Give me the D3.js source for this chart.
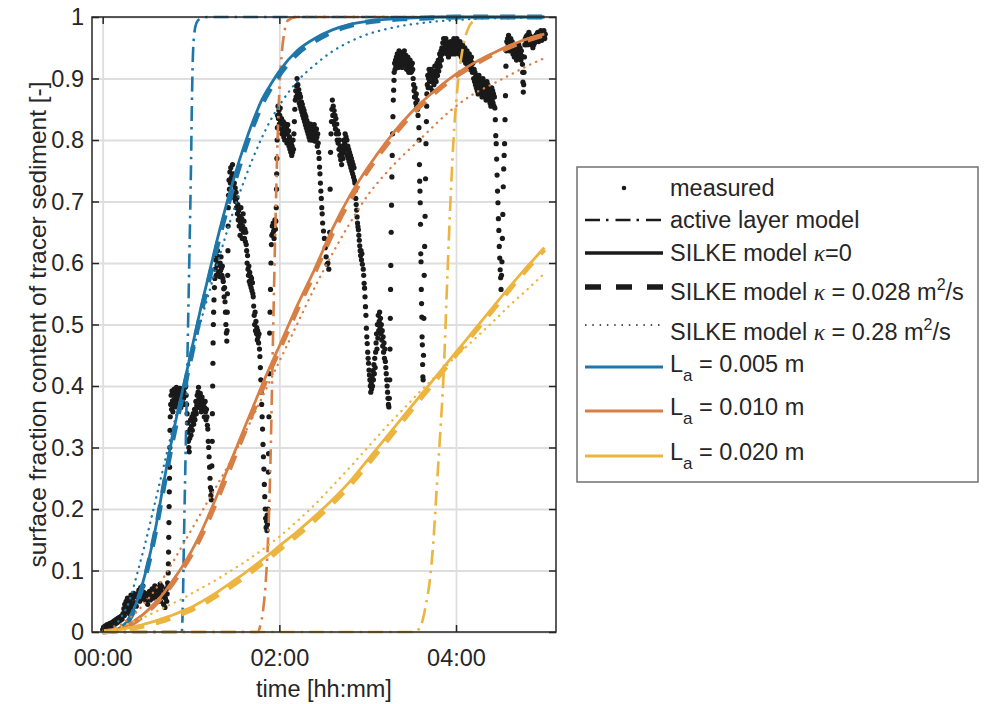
<!DOCTYPE html>
<html>
<head>
<meta charset="utf-8">
<script src="https://cdn.jsdelivr.net/npm/d3@7"></script>
<style>
  body { margin: 0; background: #fff; }
  svg text { font-family: "Liberation Sans", Arial, Helvetica, sans-serif; fill: #262626; }
</style>
</head>
<body>
<div id="chart"></div>
<script>
// time grid (hours) shared by the SILKE model curves
const curveTime = [0, 0.1, 0.2, 0.3, 0.4, 0.5, 0.6, 0.7, 0.8, 0.9, 1.0, 1.1, 1.2, 1.3, 1.4, 1.5, 1.6, 1.7, 1.8, 1.9,
  2.0, 2.2, 2.4, 2.6, 2.8, 3.0, 3.2, 3.4, 3.6, 3.8, 4.0, 4.2, 4.4, 4.6, 4.8, 5.0];

// La = 0.005 m
const blueSolid = [0, 0.001, 0.007, 0.022, 0.055, 0.105, 0.17, 0.25, 0.325, 0.39, 0.455, 0.52, 0.58, 0.64, 0.695, 0.745,
  0.79, 0.83, 0.865, 0.89, 0.912, 0.945, 0.965, 0.979, 0.988, 0.993, 0.996, 0.998, 0.999, 1, 1, 1, 1, 1, 1, 1];
const blueDashed = [0, 0.001, 0.006, 0.02, 0.052, 0.1, 0.165, 0.243, 0.317, 0.382, 0.447, 0.511, 0.571, 0.63, 0.685, 0.735,
  0.781, 0.822, 0.857, 0.884, 0.906, 0.94, 0.961, 0.976, 0.986, 0.992, 0.995, 0.997, 0.998, 0.999, 1, 1, 1, 1, 1, 1];
const blueDotted = [0, 0.006, 0.022, 0.05, 0.1, 0.155, 0.215, 0.275, 0.335, 0.39, 0.445, 0.5, 0.55, 0.6, 0.648, 0.693,
  0.733, 0.77, 0.803, 0.832, 0.856, 0.895, 0.922, 0.944, 0.96, 0.972, 0.98, 0.986, 0.99, 0.993, 0.995, 0.997, 0.998, 0.998, 0.999, 0.999];

// La = 0.010 m
const orangeSolid = [0, 0.002, 0.005, 0.012, 0.022, 0.034, 0.048, 0.065, 0.085, 0.106, 0.13, 0.158, 0.19, 0.224, 0.26, 0.295,
  0.33, 0.365, 0.4, 0.433, 0.465, 0.53, 0.59, 0.655, 0.71, 0.755, 0.795, 0.83, 0.86, 0.885, 0.907, 0.925, 0.94, 0.953, 0.964, 0.972];
const orangeDashed = [0, 0.002, 0.005, 0.011, 0.02, 0.032, 0.046, 0.062, 0.081, 0.102, 0.125, 0.152, 0.183, 0.217, 0.252, 0.288,
  0.323, 0.358, 0.393, 0.427, 0.459, 0.524, 0.585, 0.648, 0.703, 0.75, 0.79, 0.826, 0.856, 0.882, 0.904, 0.922, 0.938, 0.951, 0.962, 0.971];
const orangeDotted = [0, 0.005, 0.012, 0.022, 0.035, 0.051, 0.07, 0.091, 0.115, 0.14, 0.165, 0.19, 0.215, 0.24, 0.265, 0.292,
  0.32, 0.35, 0.38, 0.41, 0.44, 0.5, 0.56, 0.615, 0.665, 0.71, 0.745, 0.775, 0.802, 0.83, 0.855, 0.875, 0.89, 0.905, 0.92, 0.933];

// La = 0.020 m
const yellowSolid = [0, 0.002, 0.004, 0.007, 0.01, 0.014, 0.018, 0.023, 0.028, 0.034, 0.04, 0.048, 0.056, 0.065, 0.075, 0.085,
  0.095, 0.106, 0.117, 0.128, 0.14, 0.163, 0.188, 0.215, 0.245, 0.28, 0.315, 0.35, 0.385, 0.42, 0.455, 0.49, 0.525, 0.56, 0.593, 0.625];
const yellowDashed = [0, 0.001, 0.003, 0.005, 0.008, 0.011, 0.015, 0.019, 0.024, 0.03, 0.036, 0.043, 0.051, 0.06, 0.069, 0.079,
  0.089, 0.1, 0.111, 0.122, 0.134, 0.157, 0.182, 0.209, 0.239, 0.273, 0.308, 0.344, 0.38, 0.415, 0.451, 0.486, 0.521, 0.556, 0.59, 0.622];
const yellowDotted = [0, 0.004, 0.008, 0.014, 0.02, 0.026, 0.033, 0.04, 0.047, 0.054, 0.062, 0.07, 0.078, 0.086, 0.095, 0.104,
  0.113, 0.123, 0.133, 0.144, 0.155, 0.18, 0.207, 0.237, 0.268, 0.3, 0.332, 0.362, 0.392, 0.42, 0.448, 0.475, 0.502, 0.53, 0.556, 0.583];

// active layer model
const activeBlueT = [0, 0.895, 0.905, 0.92, 0.94, 0.96, 0.98, 1.0, 1.01, 1.02, 1.035, 1.06, 1.1, 1.2, 5.0];
const activeBlueV = [0, 0, 0.03, 0.15, 0.3, 0.45, 0.6, 0.76, 0.86, 0.93, 0.97, 0.99, 0.997, 1, 1];
const activeOrangeT = [0, 1.76, 1.78, 1.82, 1.85, 1.88, 1.9, 1.92, 1.94, 1.96, 1.98, 2.0, 2.03, 2.06, 2.1, 2.2, 5.0];
const activeOrangeV = [0, 0, 0.008, 0.04, 0.09, 0.18, 0.28, 0.42, 0.56, 0.69, 0.8, 0.88, 0.945, 0.978, 0.995, 1, 1];
const activeYellowT = [0, 3.55, 3.58, 3.62, 3.66, 3.7, 3.74, 3.78, 3.82, 3.86, 3.9, 3.94, 3.98, 4.02, 4.06, 4.1, 4.15, 4.2, 4.3, 5.0];
const activeYellowV = [0, 0, 0.005, 0.018, 0.045, 0.08, 0.14, 0.23, 0.32, 0.42, 0.57, 0.71, 0.82, 0.89, 0.935, 0.965, 0.985, 0.994, 1, 1];

// measured surface fraction [time h, value]
const measured = [
  [0.0,0.004],[0.01,0.008],[0.02,0.003],[0.03,0.01],[0.04,0.006],[0.05,0.012],[0.06,0.005],[0.07,0.009],[0.08,0.014],[0.09,0.007],[0.1,0.011],
  [0.11,0.016],[0.12,0.01],[0.13,0.018],[0.14,0.013],[0.15,0.02],[0.16,0.015],[0.17,0.022],[0.18,0.017],[0.19,0.024],[0.2,0.019],[0.21,0.026],[0.22,0.021],
  [0.23,0.03],[0.24,0.038],[0.245,0.027],[0.25,0.045],[0.26,0.033],[0.265,0.05],[0.27,0.041],[0.28,0.055],[0.285,0.036],[0.29,0.048],[0.3,0.03],
  [0.31,0.052],[0.315,0.04],[0.32,0.06],[0.33,0.045],[0.335,0.034],[0.34,0.055],[0.35,0.063],[0.36,0.048],[0.37,0.058],[0.38,0.042],[0.39,0.062],
  [0.4,0.055],[0.41,0.068],[0.42,0.05],[0.43,0.072],[0.44,0.06],[0.45,0.066],[0.455,0.075],[0.46,0.054],[0.47,0.064],[0.48,0.058],
  [0.49,0.05],[0.5,0.062],[0.51,0.045],[0.52,0.058],[0.53,0.066],[0.54,0.052],[0.55,0.06],[0.56,0.07],[0.57,0.055],[0.58,0.064],[0.59,0.075],[0.6,0.06],[0.61,0.068],[0.62,0.056],[0.63,0.072],
  [0.64,0.062],[0.65,0.078],[0.655,0.05],[0.66,0.068],[0.67,0.074],[0.68,0.058],[0.69,0.045],[0.7,0.064],[0.705,0.04],[0.71,0.055],[0.72,0.07],[0.725,0.05],[0.73,0.062],[0.735,0.08],
  [0.74,0.075],[0.742,0.096],[0.744,0.111],[0.746,0.13],[0.748,0.154],[0.75,0.178],[0.752,0.204],[0.754,0.228],[0.756,0.25],[0.758,0.268],[0.76,0.3],[0.762,0.328],[0.765,0.35],
  [0.77,0.37],[0.775,0.385],[0.78,0.362],[0.785,0.392],[0.79,0.376],[0.795,0.358],[0.8,0.388],[0.805,0.37],[0.81,0.395],[0.815,0.38],[0.82,0.366],[0.825,0.39],[0.83,0.376],[0.835,0.398],[0.84,0.384],[0.845,0.368],[0.85,0.392],[0.855,0.38],[0.86,0.37],[0.865,0.388],[0.87,0.377],[0.875,0.396],[0.88,0.383],[0.885,0.365],[0.89,0.39],[0.895,0.375],[0.9,0.386],[0.905,0.372],[0.91,0.395],[0.915,0.38],[0.92,0.39],[0.925,0.37],[0.93,0.384],[0.935,0.398],[0.94,0.4],[0.945,0.385],[0.95,0.37],
  [0.955,0.355],[0.96,0.34],[0.965,0.325],[0.97,0.31],[0.975,0.3],[0.98,0.293],[0.985,0.315],[0.99,0.33],[0.995,0.345],[1.0,0.32],[1.005,0.335],[1.01,0.35],[1.015,0.328],[1.02,0.342],[1.025,0.355],[1.03,0.338],[1.035,0.35],[1.04,0.362],[1.045,0.345],
  [1.05,0.36],[1.055,0.375],[1.06,0.355],[1.065,0.368],[1.07,0.385],[1.075,0.37],[1.08,0.39],[1.085,0.398],[1.09,0.38],[1.095,0.365],[1.1,0.375],[1.105,0.388],[1.11,0.37],[1.115,0.358],[1.12,0.372],[1.125,0.382],[1.13,0.366],[1.135,0.376],[1.14,0.36],[1.145,0.372],[1.15,0.35],[1.155,0.365],[1.16,0.375],[1.165,0.358],[1.17,0.345],[1.175,0.362],[1.18,0.35],[1.185,0.336],
  [1.19,0.33],[1.195,0.31],[1.2,0.3],[1.205,0.285],[1.21,0.268],[1.215,0.25],[1.22,0.235],[1.225,0.222],[1.23,0.215],[1.232,0.23],[1.236,0.27],[1.24,0.31],[1.242,0.355],[1.245,0.4],[1.248,0.437],[1.25,0.47],[1.253,0.5],[1.256,0.52],
  [1.26,0.54],[1.265,0.56],[1.27,0.575],[1.275,0.59],[1.28,0.605],[1.285,0.58],[1.29,0.612],[1.295,0.596],[1.3,0.62],[1.305,0.6],[1.31,0.585],[1.315,0.61],[1.32,0.598],[1.325,0.578],[1.33,0.6],[1.335,0.588],[1.34,0.61],[1.345,0.592],[1.35,0.58],[1.355,0.595],[1.36,0.575],
  [1.365,0.57],[1.37,0.558],[1.375,0.545],[1.38,0.56],[1.385,0.537],[1.39,0.52],[1.395,0.5],[1.4,0.486],[1.405,0.473],[1.408,0.49],[1.41,0.52],[1.412,0.55],[1.415,0.58],[1.418,0.62],[1.42,0.66],[1.422,0.69],
  [1.425,0.71],[1.43,0.735],[1.435,0.72],[1.44,0.748],[1.445,0.73],[1.45,0.755],[1.455,0.738],[1.46,0.715],[1.465,0.742],[1.47,0.76],[1.475,0.728],[1.48,0.745],[1.485,0.712],[1.49,0.73],[1.495,0.705],[1.5,0.722],[1.505,0.7],[1.51,0.715],[1.515,0.69],[1.52,0.706],[1.525,0.68],
  [1.53,0.695],[1.535,0.67],[1.54,0.685],[1.545,0.66],[1.55,0.676],[1.555,0.645],[1.56,0.665],[1.565,0.69],[1.57,0.655],[1.575,0.672],[1.58,0.64],[1.585,0.66],[1.59,0.68],[1.595,0.65],[1.6,0.668],[1.605,0.64],[1.61,0.655],[1.615,0.635],[1.62,0.65],[1.625,0.63],
  [1.63,0.62],[1.635,0.6],[1.64,0.612],[1.645,0.59],[1.65,0.58],[1.655,0.595],[1.66,0.57],[1.665,0.585],[1.67,0.565],[1.675,0.578],[1.68,0.56],[1.685,0.575],[1.69,0.555],[1.695,0.568],[1.7,0.55],[1.705,0.545],
  [1.71,0.53],[1.715,0.515],[1.72,0.5],[1.725,0.52],[1.73,0.49],[1.735,0.505],[1.74,0.485],[1.745,0.495],[1.75,0.475],[1.755,0.49],[1.76,0.48],[1.765,0.47],[1.77,0.485],
  [1.775,0.46],[1.78,0.448],[1.785,0.43],[1.79,0.41],[1.795,0.39],[1.8,0.37],[1.805,0.35],[1.81,0.33],[1.815,0.305],[1.82,0.285],[1.825,0.265],[1.83,0.24],[1.835,0.22],[1.84,0.2],[1.845,0.185],[1.85,0.17],[1.855,0.18],[1.86,0.165],[1.862,0.19],[1.865,0.175],
  [1.87,0.2],[1.875,0.26],[1.878,0.29],[1.882,0.35],[1.886,0.42],[1.89,0.486],[1.895,0.52],[1.9,0.557],[1.905,0.6],[1.91,0.63],
  [1.915,0.645],[1.92,0.66],[1.925,0.648],[1.93,0.665],[1.935,0.652],[1.94,0.64],[1.945,0.658],[1.95,0.67],[1.955,0.655],[1.96,0.668],
  [1.965,0.69],[1.968,0.72],[1.97,0.745],[1.972,0.77],[1.975,0.8],[1.978,0.82],
  [1.98,0.84],[1.985,0.855],[1.99,0.835],[1.995,0.848],[2.0,0.826],[2.005,0.84],[2.01,0.852],[2.015,0.83],[2.02,0.818],[2.025,0.835],[2.03,0.81],[2.035,0.826],[2.04,0.815],[2.045,0.83],[2.05,0.805],[2.055,0.82],[2.06,0.8],[2.065,0.815],[2.07,0.826],[2.075,0.81],[2.08,0.82],[2.085,0.795],[2.09,0.81],
  [2.095,0.825],[2.1,0.8],[2.105,0.815],[2.11,0.79],[2.115,0.805],[2.12,0.785],[2.125,0.8],[2.13,0.78],[2.135,0.795],[2.14,0.775],[2.145,0.79],[2.15,0.78],[2.155,0.8],[2.16,0.785],[2.165,0.81],[2.17,0.83],[2.175,0.85],
  [2.18,0.865],[2.185,0.88],[2.19,0.87],[2.195,0.888],[2.2,0.9],[2.205,0.875],[2.21,0.89],[2.215,0.868],[2.22,0.882],[2.225,0.86],[2.23,0.875],[2.235,0.855],[2.24,0.87],[2.245,0.85],[2.25,0.862],[2.255,0.845],[2.26,0.858],[2.265,0.84],[2.27,0.852],
  [2.275,0.835],[2.28,0.848],[2.285,0.83],[2.29,0.842],[2.295,0.825],[2.3,0.838],[2.305,0.82],[2.31,0.832],[2.315,0.815],[2.32,0.828],[2.325,0.81],[2.33,0.822],[2.335,0.805],[2.34,0.818],[2.345,0.8],[2.35,0.812],[2.355,0.826],[2.36,0.808],[2.365,0.82],[2.37,0.8],
  [2.375,0.815],[2.38,0.8],[2.385,0.82],[2.39,0.805],[2.395,0.825],[2.4,0.81],[2.405,0.798],[2.41,0.815],[2.415,0.8],[2.42,0.818],[2.425,0.805],[2.43,0.79],[2.435,0.81],[2.44,0.795],[2.445,0.78],
  [2.45,0.77],[2.455,0.756],[2.46,0.745],[2.465,0.73],[2.47,0.717],[2.475,0.705],[2.48,0.69],[2.485,0.68],[2.49,0.665],[2.5,0.652],[2.51,0.64],[2.52,0.625],[2.53,0.61],[2.54,0.598],[2.55,0.6],[2.56,0.59],
  [2.57,0.65],[2.575,0.72],[2.58,0.78],[2.585,0.81],
  [2.59,0.83],[2.595,0.85],[2.6,0.865],[2.605,0.84],[2.61,0.855],[2.615,0.83],[2.62,0.848],[2.625,0.825],[2.63,0.84],[2.635,0.818],[2.64,0.835],[2.645,0.81],[2.65,0.826],[2.655,0.8],[2.66,0.815],[2.665,0.795],[2.67,0.81],[2.675,0.785],[2.68,0.8],[2.685,0.775],[2.69,0.79],[2.695,0.768],[2.7,0.782],[2.705,0.76],[2.71,0.776],[2.715,0.79],[2.72,0.77],[2.725,0.785],[2.73,0.8],[2.735,0.78],[2.74,0.795],[2.745,0.81],[2.75,0.79],[2.755,0.805],[2.76,0.785],[2.765,0.8],[2.77,0.775],[2.775,0.79],[2.78,0.77],[2.785,0.785],[2.79,0.765],[2.795,0.78],[2.8,0.76],[2.805,0.775],[2.81,0.755],[2.815,0.77],[2.82,0.75],[2.825,0.765],[2.83,0.745],[2.835,0.76],[2.84,0.74],[2.845,0.755],[2.85,0.735],
  [2.855,0.73],[2.86,0.718],[2.865,0.705],[2.87,0.695],[2.875,0.686],[2.88,0.675],[2.885,0.665],[2.89,0.659],[2.895,0.654],[2.9,0.645],[2.905,0.637],[2.91,0.628],[2.915,0.62],[2.92,0.612],[2.925,0.62],[2.93,0.605],[2.935,0.615],[2.94,0.598],
  [2.95,0.59],[2.955,0.58],[2.96,0.567],[2.965,0.559],[2.97,0.545],[2.975,0.529],[2.98,0.515],[2.985,0.494],[2.99,0.48],[2.995,0.469],[3.0,0.455],[3.005,0.445],[3.01,0.437],[3.015,0.426],[3.02,0.418],[3.025,0.41],[3.03,0.4],[3.035,0.39],[3.04,0.405],[3.045,0.395],[3.05,0.415],[3.055,0.4],[3.06,0.425],[3.065,0.41],[3.07,0.435],[3.075,0.42],[3.08,0.445],[3.085,0.43],[3.09,0.455],
  [3.095,0.47],[3.1,0.485],[3.105,0.46],[3.11,0.5],[3.115,0.478],[3.12,0.515],[3.125,0.49],[3.13,0.505],[3.135,0.52],[3.14,0.495],[3.145,0.51],[3.15,0.485],[3.155,0.5],[3.16,0.475],[3.165,0.49],[3.17,0.465],[3.175,0.48],[3.18,0.455],[3.185,0.47],[3.19,0.445],[3.195,0.46],
  [3.2,0.44],[3.205,0.43],[3.21,0.42],[3.215,0.41],[3.22,0.4],[3.225,0.39],[3.23,0.38],[3.235,0.37],[3.24,0.366],[3.245,0.38],
  [3.25,0.41],[3.253,0.46],[3.256,0.51],[3.259,0.557],[3.262,0.596],[3.266,0.65],[3.27,0.694],[3.274,0.74],[3.278,0.775],[3.282,0.81],[3.286,0.838],[3.29,0.865],[3.294,0.881],[3.298,0.897],
  [3.3,0.91],[3.305,0.925],[3.31,0.915],[3.315,0.93],[3.32,0.92],[3.325,0.935],[3.33,0.925],[3.335,0.94],[3.34,0.93],[3.345,0.918],[3.35,0.935],[3.355,0.945],[3.36,0.928],[3.365,0.94],[3.37,0.922],[3.375,0.935],[3.38,0.942],[3.385,0.93],[3.39,0.918],[3.395,0.935],[3.4,0.925],[3.405,0.94],[3.41,0.93],[3.415,0.945],[3.42,0.935],[3.425,0.922],[3.43,0.938],[3.435,0.93],[3.44,0.915],[3.445,0.93],[3.45,0.92],[3.455,0.935],[3.46,0.925],[3.465,0.91],[3.47,0.925],[3.475,0.915],[3.48,0.93],[3.485,0.92],[3.49,0.91],[3.495,0.922],[3.5,0.912],[3.505,0.925],[3.51,0.915],
  [3.515,0.9],[3.52,0.89],[3.525,0.88],[3.53,0.87],[3.535,0.885],[3.54,0.87],[3.545,0.86],[3.55,0.875],[3.555,0.855],[3.56,0.865],[3.565,0.85],[3.57,0.84],[3.575,0.855],
  [3.58,0.82],[3.583,0.8],[3.586,0.76],[3.589,0.733],[3.592,0.717],[3.595,0.698],[3.598,0.663],[3.601,0.615],[3.604,0.602],[3.607,0.557],[3.61,0.534],[3.613,0.512],[3.616,0.48],[3.619,0.467],[3.622,0.435],[3.625,0.415],[3.628,0.41],[3.632,0.45],[3.636,0.51],[3.64,0.58],[3.645,0.627],[3.65,0.676],[3.655,0.737],[3.66,0.794],[3.665,0.83],[3.668,0.855],
  [3.67,0.875],[3.675,0.89],[3.68,0.905],[3.685,0.885],[3.69,0.9],[3.695,0.915],[3.7,0.895],[3.705,0.91],[3.71,0.885],[3.715,0.9],[3.72,0.915],[3.725,0.895],[3.73,0.905],[3.735,0.88],[3.74,0.895],[3.745,0.91],[3.75,0.89],[3.755,0.905],[3.76,0.92],[3.765,0.9],[3.77,0.912],[3.775,0.895],[3.78,0.91],[3.785,0.925],[3.79,0.905],[3.795,0.918],[3.8,0.93],[3.805,0.912],[3.81,0.925],[3.815,0.94],[3.82,0.92],[3.825,0.935],[3.83,0.945],[3.835,0.93],
  [3.84,0.95],[3.845,0.94],[3.85,0.958],[3.855,0.945],[3.86,0.965],[3.865,0.95],[3.87,0.96],[3.875,0.942],[3.88,0.955],[3.885,0.965],[3.89,0.948],[3.895,0.96],[3.9,0.94],[3.905,0.955],[3.91,0.945],[3.915,0.935],[3.92,0.95],[3.925,0.94],[3.93,0.955],[3.935,0.945],[3.94,0.96],[3.945,0.95],[3.95,0.94],[3.955,0.955],[3.96,0.945],[3.965,0.96],[3.97,0.95],[3.975,0.965],[3.98,0.955],[3.985,0.94],[3.99,0.95],[3.995,0.96],
  [4.0,0.945],[4.005,0.955],[4.01,0.965],[4.015,0.95],[4.02,0.96],[4.025,0.945],[4.03,0.955],[4.035,0.94],[4.04,0.95],[4.045,0.96],[4.05,0.945],[4.055,0.955],[4.06,0.935],[4.065,0.95],[4.07,0.94],[4.075,0.955],[4.08,0.945],[4.085,0.93],[4.09,0.945],[4.095,0.935],[4.1,0.95],[4.105,0.94],[4.11,0.925],[4.115,0.94],[4.12,0.93],[4.125,0.945],[4.13,0.935],[4.135,0.92],[4.14,0.935],[4.145,0.925],[4.15,0.94],[4.155,0.93],[4.16,0.915],[4.165,0.93],[4.17,0.92],[4.175,0.935],[4.18,0.925],[4.185,0.91],[4.19,0.925],
  [4.195,0.915],[4.2,0.9],[4.205,0.915],[4.21,0.895],[4.215,0.91],[4.22,0.89],[4.225,0.905],[4.23,0.885],[4.235,0.9],[4.24,0.88],[4.245,0.895],[4.25,0.875],[4.255,0.89],[4.26,0.905],[4.265,0.885],[4.27,0.9],[4.275,0.88],[4.28,0.895],[4.285,0.875],[4.29,0.89],[4.295,0.87],[4.3,0.885],[4.305,0.9],[4.31,0.88],[4.315,0.895],[4.32,0.875],[4.325,0.89],[4.33,0.87],[4.335,0.885],[4.34,0.865],[4.345,0.88],[4.35,0.895],[4.355,0.875],[4.36,0.89],[4.365,0.87],[4.37,0.885],[4.375,0.865],[4.38,0.88],[4.385,0.86],[4.39,0.875],[4.395,0.855],[4.4,0.87],[4.405,0.885],[4.41,0.865],[4.415,0.88],[4.42,0.86],[4.425,0.875],[4.43,0.855],[4.435,0.87],
  [4.44,0.852],[4.445,0.833],[4.45,0.807],[4.455,0.794],[4.46,0.769],[4.465,0.743],[4.47,0.717],[4.475,0.698],[4.48,0.672],[4.485,0.653],[4.49,0.627],[4.495,0.608],[4.5,0.589],[4.505,0.576],[4.51,0.557],[4.515,0.58],[4.52,0.602],[4.525,0.64],[4.53,0.679],[4.535,0.724],[4.54,0.753],[4.545,0.775],[4.55,0.794],[4.555,0.833],[4.56,0.872],
  [4.565,0.92],[4.57,0.945],[4.575,0.96],[4.58,0.95],[4.585,0.965],[4.59,0.955],[4.595,0.97],[4.6,0.958],[4.605,0.945],[4.61,0.96],[4.615,0.95],[4.62,0.965],[4.625,0.955],[4.63,0.945],[4.635,0.96],[4.64,0.95],[4.645,0.94],[4.65,0.955],[4.655,0.945],[4.66,0.935],[4.665,0.95],[4.67,0.94],[4.675,0.955],[4.68,0.945],[4.685,0.93],[4.69,0.945],[4.695,0.935],[4.7,0.95],[4.705,0.94],[4.71,0.955],[4.715,0.945],[4.72,0.935],[4.725,0.95],[4.73,0.94],[4.735,0.93],[4.74,0.945],
  [4.75,0.936],[4.752,0.923],[4.755,0.91],[4.758,0.894],[4.762,0.878],[4.766,0.89],[4.77,0.91],[4.775,0.935],
  [4.78,0.955],[4.785,0.965],[4.79,0.955],[4.795,0.968],[4.8,0.96],[4.805,0.97],[4.81,0.962],[4.815,0.955],[4.82,0.965],[4.825,0.975],[4.83,0.962],[4.835,0.97],[4.84,0.958],[4.845,0.968],[4.85,0.96],[4.855,0.955],[4.86,0.965],[4.865,0.958],[4.87,0.95],[4.875,0.962],[4.88,0.955],[4.885,0.965],[4.89,0.958],[4.895,0.968],[4.9,0.96],[4.905,0.97],[4.91,0.962],[4.915,0.972],[4.92,0.965],[4.925,0.975],[4.93,0.968],[4.935,0.96],[4.94,0.972],[4.945,0.965],[4.95,0.975],[4.955,0.968],[4.96,0.978],[4.965,0.97],[4.97,0.962],[4.975,0.972],[4.98,0.965],[4.985,0.975],[4.99,0.968],[4.995,0.978],[5.0,0.97],[5.005,0.965],[5.01,0.972]
];

const yTicks = [0, 0.1, 0.2, 0.3, 0.4, 0.5, 0.6, 0.7, 0.8, 0.9, 1];
const yTickLabels = ["0", "0.1", "0.2", "0.3", "0.4", "0.5", "0.6", "0.7", "0.8", "0.9", "1"];
const xTicks = [0, 2, 4];
const xTickLabels = ["00:00", "02:00", "04:00"];

const colors = { blue: "#1f77a9", orange: "#d77f45", yellow: "#ecb53f" };
const axisColor = "#262626";
const gridColor = "#dedede";

const plot = { left: 92, right: 556, top: 17, bottom: 632 };

const x = d3.scaleLinear().domain([-0.121, 5.132]).range([plot.left, plot.right]);
const y = d3.scaleLinear().domain([0, 1]).range([plot.bottom, plot.top]);

const svg = d3.select("#chart").append("svg").attr("width", 985).attr("height", 704);

// grid
svg.append("g")
  .attr("transform", `translate(${plot.left},0)`)
  .call(d3.axisLeft(y).tickValues(yTicks).tickSize(-(plot.right - plot.left)).tickFormat(""))
  .call((g) => g.select(".domain").remove())
  .selectAll("line").attr("stroke", gridColor).attr("stroke-width", 1.8);
svg.append("g")
  .attr("transform", `translate(0,${plot.bottom})`)
  .call(d3.axisBottom(x).tickValues(xTicks).tickSize(-(plot.bottom - plot.top)).tickFormat(""))
  .call((g) => g.select(".domain").remove())
  .selectAll("line").attr("stroke", gridColor).attr("stroke-width", 1.8);

svg.append("clipPath").attr("id", "clip")
  .append("rect")
  .attr("x", plot.left).attr("y", plot.top - 3)
  .attr("width", plot.right - plot.left).attr("height", plot.bottom - plot.top + 6);

const body = svg.append("g").attr("clip-path", "url(#clip)");

// measured dots
body.append("g").selectAll("circle").data(measured).join("circle")
  .attr("cx", (d) => x(d[0]))
  .attr("cy", (d) => y(d[1]))
  .attr("r", 2.6)
  .attr("fill", "#1a1a1a");

const line = d3.line().x((d) => x(d[0])).y((d) => y(d[1])).curve(d3.curveMonotoneX);

const styles = {
  active: { width: 2.6, dash: "15,6,2.5,6" },
  solid: { width: 2.8, dash: null },
  dashed: { width: 5, dash: "15,12" },
  dotted: { width: 2.3, dash: "0.3,6.2" },
};

const series = [
  { t: activeBlueT, v: activeBlueV, color: colors.blue, style: "active" },
  { t: activeOrangeT, v: activeOrangeV, color: colors.orange, style: "active" },
  { t: activeYellowT, v: activeYellowV, color: colors.yellow, style: "active" },
  { t: curveTime, v: blueSolid, color: colors.blue, style: "solid" },
  { t: curveTime, v: orangeSolid, color: colors.orange, style: "solid" },
  { t: curveTime, v: yellowSolid, color: colors.yellow, style: "solid" },
  { t: curveTime, v: blueDashed, color: colors.blue, style: "dashed" },
  { t: curveTime, v: orangeDashed, color: colors.orange, style: "dashed" },
  { t: curveTime, v: yellowDashed, color: colors.yellow, style: "dashed" },
  { t: curveTime, v: blueDotted, color: colors.blue, style: "dotted" },
  { t: curveTime, v: orangeDotted, color: colors.orange, style: "dotted" },
  { t: curveTime, v: yellowDotted, color: colors.yellow, style: "dotted" },
];

series.forEach((s) => {
  const st = styles[s.style];
  body.append("path")
    .datum(s.t.map((t, i) => [t, s.v[i]]))
    .attr("d", line)
    .attr("fill", "none")
    .attr("stroke", s.color)
    .attr("stroke-width", st.width)
    .attr("stroke-dasharray", st.dash)
    .attr("stroke-linecap", s.style === "dotted" ? "round" : "butt");
});

// axes with inward ticks
const fontSize = 23.5;
const styleAxis = (g) => {
  g.select(".domain").remove();
  g.selectAll("line").attr("stroke", axisColor).attr("stroke-width", 1.5);
  g.selectAll("text").attr("fill", axisColor).style("font-size", fontSize + "px");
};

svg.append("g")
  .attr("transform", `translate(${plot.left},0)`)
  .call(d3.axisLeft(y).tickValues(yTicks).tickFormat((d, i) => yTickLabels[i]).tickSizeInner(-7).tickSizeOuter(0).tickPadding(8))
  .call(styleAxis);
svg.append("g")
  .attr("transform", `translate(${plot.right},0)`)
  .call(d3.axisRight(y).tickValues(yTicks).tickFormat("").tickSizeInner(-7).tickSizeOuter(0))
  .call(styleAxis);
svg.append("g")
  .attr("transform", `translate(0,${plot.bottom})`)
  .call(d3.axisBottom(x).tickValues(xTicks).tickFormat((d, i) => xTickLabels[i]).tickSizeInner(-7).tickSizeOuter(0).tickPadding(17))
  .call(styleAxis);
svg.append("g")
  .attr("transform", `translate(0,${plot.top})`)
  .call(d3.axisTop(x).tickValues(xTicks).tickFormat("").tickSizeInner(-7).tickSizeOuter(0))
  .call(styleAxis);

svg.append("rect")
  .attr("x", plot.left).attr("y", plot.top)
  .attr("width", plot.right - plot.left).attr("height", plot.bottom - plot.top)
  .attr("fill", "none").attr("stroke", axisColor).attr("stroke-width", 1.5);

// axis labels
svg.append("text")
  .attr("x", (plot.left + plot.right) / 2).attr("y", 697)
  .attr("text-anchor", "middle").style("font-size", fontSize + "px")
  .text("time [hh:mm]");
svg.append("text")
  .attr("transform", `translate(46,${(plot.top + plot.bottom) / 2}) rotate(-90)`)
  .attr("text-anchor", "middle").style("font-size", "24.5px")
  .text("surface fraction content of tracer sediment [-]");

// legend
const legend = svg.append("g");
legend.append("rect")
  .attr("x", 577).attr("y", 167).attr("width", 401).attr("height", 315)
  .attr("fill", "#fff").attr("stroke", "#707070").attr("stroke-width", 1.5);

const lx0 = 585, lx1 = 663, tx = 670;
const entries = [
  { y: 188, kind: "dot", color: "#1a1a1a" },
  { y: 220, kind: "active", color: "#1a1a1a", w: 2.4 },
  { y: 253, kind: "solid", color: "#1a1a1a", w: 3.5 },
  { y: 287, kind: "dashed", color: "#1a1a1a", w: 5.5 },
  { y: 325, kind: "dotted", color: "#1a1a1a", w: 1.6 },
  { y: 367, kind: "solid", color: colors.blue, w: 3 },
  { y: 411, kind: "solid", color: colors.orange, w: 3 },
  { y: 456, kind: "solid", color: colors.yellow, w: 3 },
];
const legendDash = { active: "15,6,2.5,7", dashed: "16,15", dotted: "1.5,5.8" };
entries.forEach((e) => {
  if (e.kind === "dot") {
    legend.append("circle").attr("cx", 624).attr("cy", e.y).attr("r", 2.3).attr("fill", e.color);
  } else {
    legend.append("line")
      .attr("x1", lx0).attr("x2", lx1).attr("y1", e.y).attr("y2", e.y)
      .attr("stroke", e.color).attr("stroke-width", e.w)
      .attr("stroke-dasharray", legendDash[e.kind] || null);
  }
});

const ltext = (yb) => legend.append("text").attr("x", tx).attr("y", yb).style("font-size", fontSize + "px");
ltext(196).text("measured");
ltext(228).text("active layer model");

const kappa = (t) => t.append("tspan").style("font-family", "'Liberation Serif', 'DejaVu Serif', serif").style("font-style", "italic").text("\u03ba");

let t = ltext(261);
t.append("tspan").text("SILKE model ");
kappa(t);
t.append("tspan").text("=0");

t = ltext(300);
t.append("tspan").text("SILKE model ");
kappa(t);
t.append("tspan").text(" = 0.028 m");
t.append("tspan").attr("dy", -10).style("font-size", "16px").text("2");
t.append("tspan").attr("dy", 10).text("/s");

t = ltext(340);
t.append("tspan").text("SILKE model ");
kappa(t);
t.append("tspan").text(" = 0.28 m");
t.append("tspan").attr("dy", -10).style("font-size", "16px").text("2");
t.append("tspan").attr("dy", 10).text("/s");

[["0.005", 372], ["0.010", 415], ["0.020", 460]].forEach(([v, yb]) => {
  const tt = ltext(yb);
  tt.append("tspan").text("L");
  tt.append("tspan").attr("dy", 9).style("font-size", "17px").text("a");
  tt.append("tspan").attr("dy", -9).text(` = ${v} m`);
});
</script>
</body>
</html>
